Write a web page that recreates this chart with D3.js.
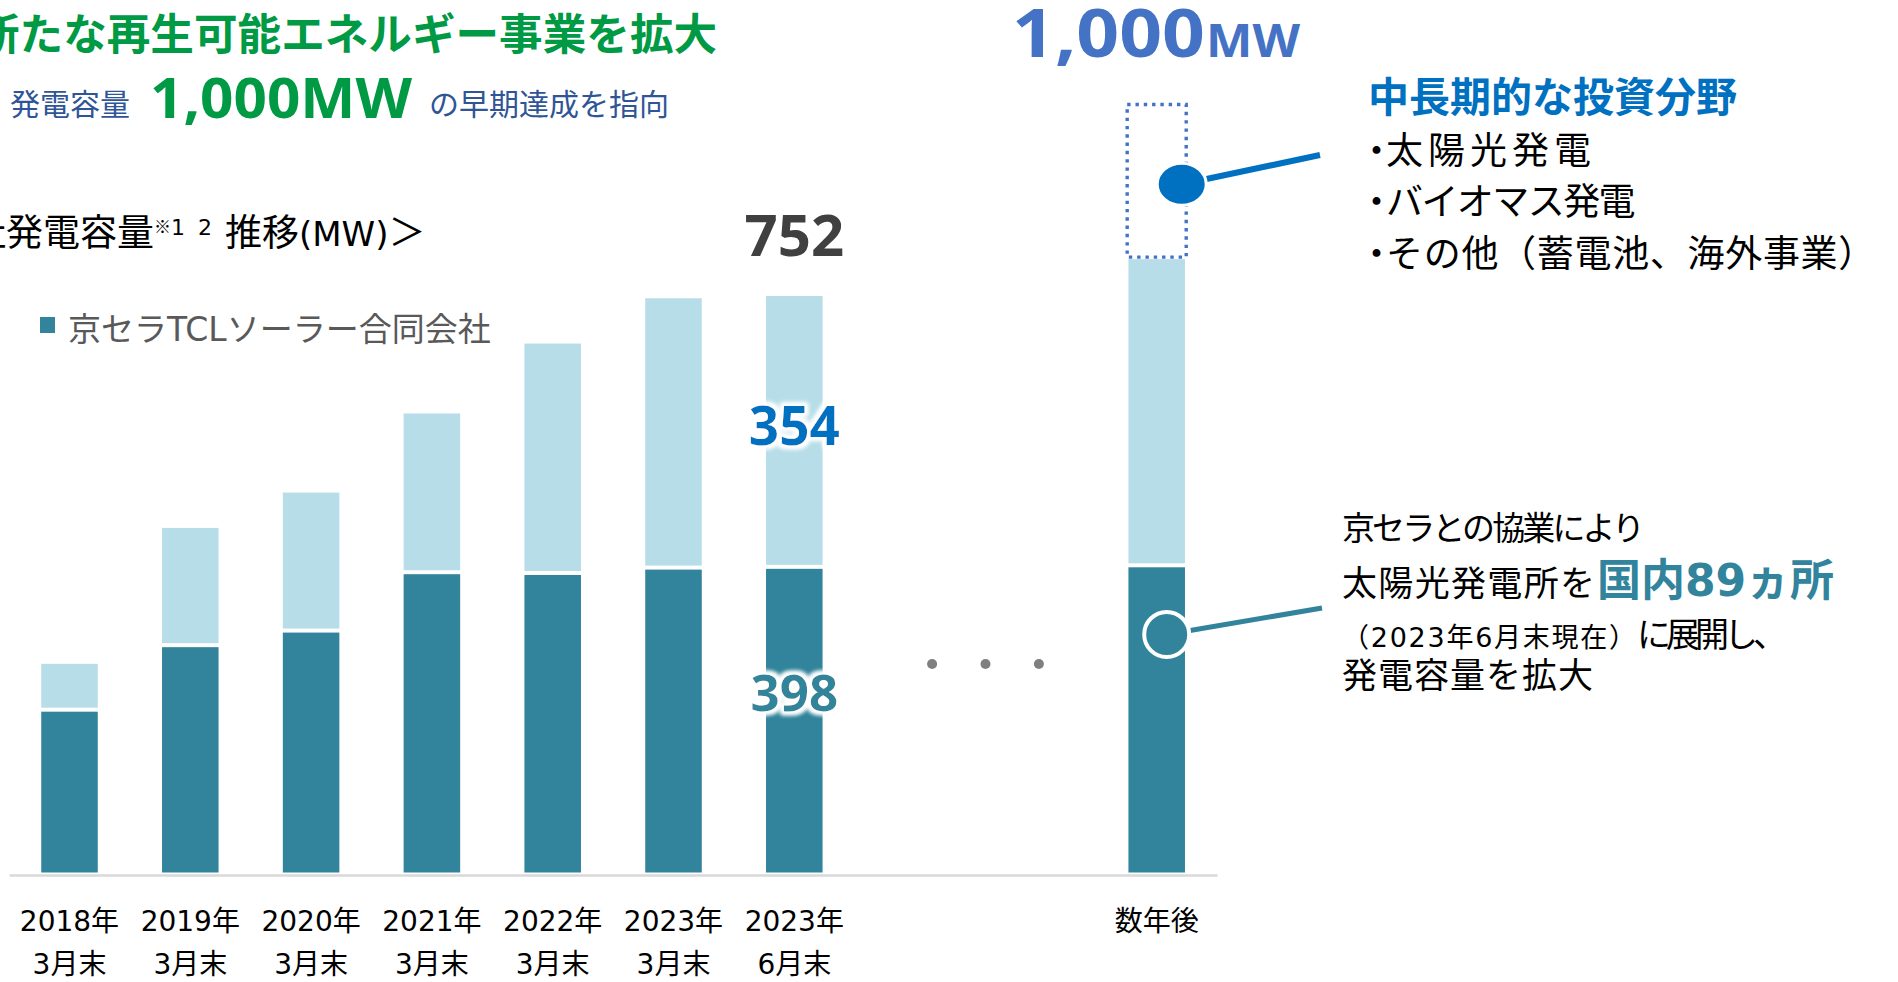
<!DOCTYPE html>
<html lang="ja">
<head>
<meta charset="utf-8">
<script src="https://cdn.jsdelivr.net/npm/d3@7"></script>
<style>
html,body{margin:0;padding:0;background:#fff;overflow:hidden;}
svg{display:block;}
</style>
</head>
<body>
<svg id="chart" width="1898" height="982"></svg>
<script>
// 発電容量の推移（MW）
const yearLabels   = ["2018年", "2019年", "2020年", "2021年", "2022年", "2023年", "2023年"];
const periodLabels = ["3月末", "3月末", "3月末", "3月末", "3月末", "3月末", "6月末"];
const kyoceraTcl   = [212, 296, 315, 391, 390, 397, 398];   // 京セラTCLソーラー合同会社
const otherOwned   = [61, 154, 181, 208, 300, 352, 354];    // その他の発電容量

// 数年後の目標
const futureLabel      = "数年後";
const futureKyoceraTcl = 400;
const futureOther      = 400;
const futureTarget     = 1000;

const yMax = 1000;

const COL_DARK  = "#31849b";
const COL_LIGHT = "#b7dee8";
const COL_GREEN = "#009944";
const COL_BLUE  = "#0070c0";
const COL_NAVY  = "#2f5597";
const COL_TGT   = "#4472c4";

const MIX = "'DejaVu Sans', 'Noto Sans CJK JP', sans-serif";
const JP  = "'Noto Sans CJK JP', sans-serif";
const NUM = "'Noto Sans', 'DejaVu Sans', sans-serif";

const svg = d3.select("#chart");
svg.append("rect").attr("width", 1898).attr("height", 982).attr("fill", "#fff");

// white halo behind value labels
const defs = svg.append("defs");
const halo = defs.append("filter").attr("id", "halo")
  .attr("x", "-20%").attr("y", "-30%").attr("width", "140%").attr("height", "160%");
halo.append("feMorphology").attr("in", "SourceAlpha").attr("operator", "dilate").attr("radius", 3).attr("result", "d");
halo.append("feGaussianBlur").attr("in", "d").attr("stdDeviation", 2).attr("result", "b");
halo.append("feFlood").attr("flood-color", "#fff");
halo.append("feComposite").attr("in2", "b").attr("operator", "in").attr("result", "w");
const hm = halo.append("feMerge");
hm.append("feMergeNode").attr("in", "w");
hm.append("feMergeNode").attr("in", "w");
hm.append("feMergeNode").attr("in", "SourceGraphic");

// ---- scales ----
const slots = yearLabels.map((d, i) => d + periodLabels[i]).concat(["gapA", "gapB", futureLabel]);
const x = d3.scaleBand().domain(slots).range([9.1, 1217.1]).paddingInner(0.532).paddingOuter(0.266);
const y = d3.scaleLinear().domain([0, yMax]).range([872.5, 104.5]);
const bw = x.bandwidth();
const xc = s => x(s) + bw / 2;

// ---- axis line ----
const axis = svg.append("g").attr("transform", "translate(0,875)")
  .call(d3.axisBottom(x).tickSize(0).tickFormat(""));
axis.select(".domain").attr("stroke", "#d9d9d9").attr("stroke-width", 2.5);

// ---- stacked bars ----
const rows = slots.slice(0, 7).map((s, i) => ({ s, k: kyoceraTcl[i], o: otherOwned[i] }));
rows.push({ s: futureLabel, k: futureKyoceraTcl, o: futureOther });

const gBars = svg.append("g");
gBars.selectAll("rect.dark").data(rows).join("rect").attr("class", "dark")
  .attr("x", d => x(d.s)).attr("width", bw)
  .attr("y", d => y(d.k) + 2).attr("height", d => y(0) - y(d.k) - 2)
  .attr("fill", COL_DARK);
gBars.selectAll("rect.light").data(rows).join("rect").attr("class", "light")
  .attr("x", d => x(d.s)).attr("width", bw)
  .attr("y", d => y(d.k + d.o) + 1).attr("height", d => (y(d.k) - 2) - (y(d.k + d.o) + 1))
  .attr("fill", COL_LIGHT);

// target outline above the future bar
const fTop = futureKyoceraTcl + futureOther;
svg.append("rect")
  .attr("x", x(futureLabel) - 1.25).attr("width", bw + 2.5)
  .attr("y", y(futureTarget)).attr("height", y(fTop) - 1 - y(futureTarget))
  .attr("fill", "none").attr("stroke", COL_TGT).attr("stroke-width", 3.4)
  .attr("stroke-dasharray", "3.4 4.9");

// ---- category labels ----
const gLab = svg.append("g").attr("font-family", MIX).attr("font-size", 28).attr("fill", "#000")
  .attr("text-anchor", "middle");
rows.slice(0, 7).forEach((d, i) => {
  const t = gLab.append("text").attr("x", xc(d.s)).attr("y", 931);
  t.append("tspan").attr("x", xc(d.s)).attr("y", 931).text(yearLabels[i]);
  t.append("tspan").attr("x", xc(d.s)).attr("y", 974).text(periodLabels[i]);
});
gLab.append("text").attr("x", xc(futureLabel)).attr("y", 931).text(futureLabel);

// ---- value labels on latest bar ----
const last = rows[6];
const cx7 = xc(last.s);
svg.append("text").attr("x", cx7).attr("y", y(last.k + last.o) - 39)
  .attr("text-anchor", "middle").attr("font-family", NUM).attr("font-weight", 700)
  .attr("font-size", 58).attr("fill", "#404040").text(d3.format(",")(last.k + last.o));
svg.append("text").attr("x", cx7).attr("y", (y(last.k + last.o) + y(last.k)) / 2 + 14)
  .attr("text-anchor", "middle").attr("font-family", NUM).attr("font-weight", 700)
  .attr("font-size", 53).attr("fill", COL_BLUE).attr("filter", "url(#halo)").text(last.o);
svg.append("text").attr("x", cx7).attr("y", y(last.k) + 144)
  .attr("text-anchor", "middle").attr("font-family", NUM).attr("font-weight", 700)
  .attr("font-size", 51).attr("fill", COL_DARK).attr("filter", "url(#halo)").text(last.k);

// ---- ellipsis between periods ----
const midGap = (cx7 + xc(futureLabel)) / 2 + 10;
svg.selectAll("circle.dots").data([-1, 0, 1]).join("circle").attr("class", "dots")
  .attr("cx", d => midGap + d * 53.4).attr("cy", 664).attr("r", 5).attr("fill", "#7f7f7f");

// ---- target label ----
const tgtG = svg.append("g").attr("font-family", NUM).attr("font-weight", 700).attr("fill", COL_TGT);
tgtG.append("text").attr("x", 1012).attr("y", 56.7).attr("font-size", 66)
  .attr("textLength", 193).attr("lengthAdjust", "spacingAndGlyphs").text(d3.format(",")(futureTarget));
tgtG.append("text").attr("x", 1206).attr("y", 56.7).attr("font-size", 46)
  .attr("textLength", 94).attr("lengthAdjust", "spacingAndGlyphs").text("MW");

// ---- callouts ----
const cxF = xc(futureLabel);
const potY = (y(futureTarget) + y(fTop)) / 2 + 3;
svg.append("line").attr("x1", cxF + 25).attr("y1", potY).attr("x2", 1320).attr("y2", 155)
  .attr("stroke", COL_BLUE).attr("stroke-width", 6);
svg.append("ellipse").attr("cx", cxF + 25).attr("cy", potY).attr("rx", 24.5).attr("ry", 21)
  .attr("fill", COL_BLUE).attr("stroke", "#fff").attr("stroke-width", 3);

const ownY = y(310);
svg.append("line").attr("x1", cxF + 10).attr("y1", ownY).attr("x2", 1322).attr("y2", 608)
  .attr("stroke", COL_DARK).attr("stroke-width", 5);
svg.append("circle").attr("cx", cxF + 10).attr("cy", ownY).attr("r", 22.5)
  .attr("fill", COL_DARK).attr("stroke", "#fff").attr("stroke-width", 4);

// ---- headline ----
svg.append("text").attr("x", -24).attr("y", 50).attr("font-family", JP).attr("font-weight", 700)
  .attr("font-size", 43.6).attr("fill", COL_GREEN).text("新たな再生可能エネルギー事業を拡大");

svg.append("text").attr("x", 10).attr("y", 115).attr("font-family", JP).attr("font-size", 30)
  .attr("fill", COL_NAVY).text("発電容量");
svg.append("text").attr("x", 150).attr("y", 118).attr("font-family", NUM).attr("font-weight", 700)
  .attr("font-size", 56).attr("fill", COL_GREEN)
  .attr("textLength", 262).attr("lengthAdjust", "spacingAndGlyphs").text("1,000MW");
svg.append("text").attr("x", 429).attr("y", 115).attr("font-family", JP).attr("font-size", 30)
  .attr("fill", COL_NAVY).text("の早期達成を指向");

// chart title
const st = svg.append("text").attr("y", 246).attr("font-family", JP)
  .attr("font-size", 37).attr("fill", "#000");
st.append("tspan").attr("x", -105).text("＜当社発電容量");
st.append("tspan").attr("font-size", 17).attr("dy", -13).text("※");
st.append("tspan").attr("font-family", MIX).attr("font-size", 22).attr("dy", 2)
  .attr("letter-spacing", 3).text("1 2");
st.append("tspan").attr("x", 225).attr("dy", 11).text("推移");
st.append("tspan").attr("font-family", MIX).attr("font-size", 34).text("(MW)");
st.append("tspan").text("＞");

// legend
svg.append("rect").attr("x", 40).attr("y", 317).attr("width", 15).attr("height", 16).attr("fill", COL_DARK);
svg.append("text").attr("x", 68).attr("y", 340.5).attr("font-family", MIX).attr("font-size", 33)
  .attr("fill", "#595959").text("京セラTCLソーラー合同会社");

// ---- right-hand notes ----
svg.append("text").attr("x", 1368).attr("y", 112).attr("font-family", JP).attr("font-weight", 700)
  .attr("font-size", 41).attr("fill", COL_BLUE).text("中長期的な投資分野");
const bullets = ["太陽光発電", "バイオマス発電", "その他（蓄電池、海外事業）"];
const bulletLen = [210, 248, 490];
const BUL_FS = 37;
const gBul = svg.append("g").attr("font-family", JP).attr("font-size", BUL_FS).attr("fill", "#000");
bullets.forEach((d, i) => {
  const by = 164 + i * 51.3;
  const n = Array.from(d).length;
  const t = gBul.append("text").attr("x", 1358).attr("y", by);
  // narrow bullet: the dot's advance is tightened so the item text starts right after it
  t.append("tspan").attr("letter-spacing", 1386 - 1358 - BUL_FS).text("・");
  t.append("tspan").attr("letter-spacing", (bulletLen[i] - n * BUL_FS) / n).text(d);
});

const nt = svg.append("g").attr("font-family", MIX).attr("fill", "#000");
nt.append("text").attr("x", 1342).attr("y", 539.5).attr("font-size", 33)
  .attr("textLength", 303).attr("lengthAdjust", "spacing").text("京セラとの協業により");
nt.append("text").attr("x", 1342).attr("y", 596).attr("font-size", 35)
  .attr("textLength", 253).attr("lengthAdjust", "spacing").text("太陽光発電所を");
nt.append("text").attr("x", 1597).attr("y", 596).attr("font-size", 44).attr("font-weight", 700)
  .attr("fill", COL_DARK).attr("textLength", 237).attr("lengthAdjust", "spacing").text("国内89ヵ所");
nt.append("text").attr("x", 1342).attr("y", 647).attr("font-size", 27)
  .attr("textLength", 294).attr("lengthAdjust", "spacing").text("（2023年6月末現在）");
nt.append("text").attr("x", 1637).attr("y", 647).attr("font-size", 34)
  .attr("textLength", 150).attr("lengthAdjust", "spacing").text("に展開し、");
nt.append("text").attr("x", 1342).attr("y", 688).attr("font-size", 35)
  .attr("textLength", 251).attr("lengthAdjust", "spacing").text("発電容量を拡大");
</script>
</body>
</html>
